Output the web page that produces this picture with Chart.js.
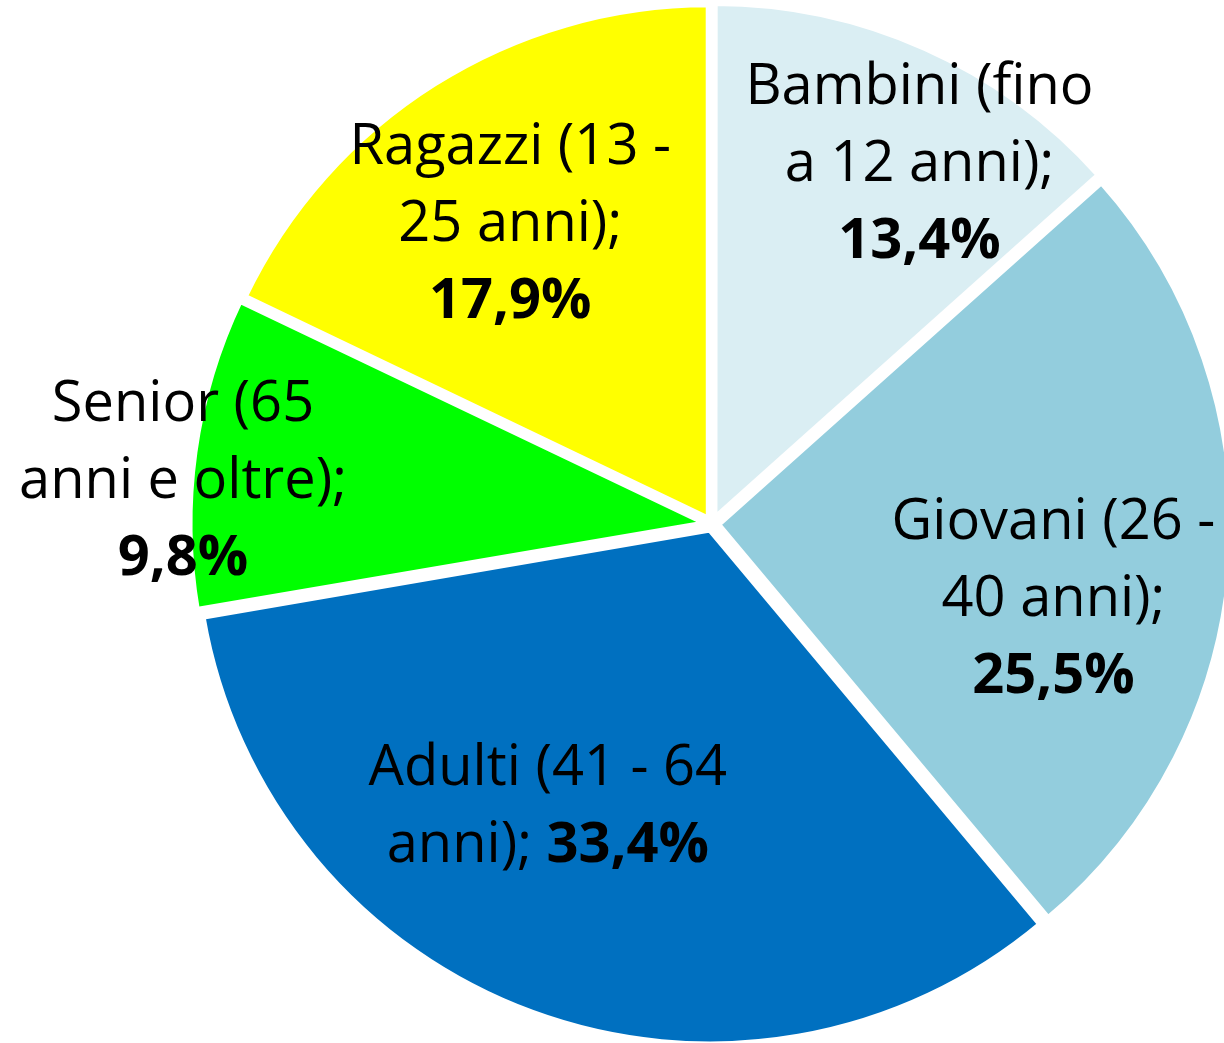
<!DOCTYPE html>
<html>
<head>
<meta charset="utf-8">
<script src="https://cdn.jsdelivr.net/npm/chart.js@4/dist/chart.umd.min.js"></script>
<style>
    body { margin: 0; background: #ffffff; }
    canvas { display: block; }
</style>
</head>
<body>
<canvas id="graficoEta" width="1224" height="1043"></canvas>
<script>
// fasce d'età (a capo come nell'originale)
const categorie = [
    ["Bambini (fino", "a 12 anni)"],
    ["Giovani (26 -", "40 anni)"],
    ["Adulti (41 - 64", "anni)"],
    ["Senior (65", "anni e oltre)"],
    ["Ragazzi (13 -", "25 anni)"],
];
const percentuali = [13.4, 25.5, 33.4, 9.8, 17.9];
const colori = ["#DAEEF3", "#93CDDD", "#0070C0", "#00FF00", "#FFFF00"];

// dove mettere le etichette: frazione del raggio e rotazione in gradi rispetto alla bisettrice
const posEtichette = [
    { r: 0.814, giro: 5.6 },
    { r: 0.679, giro: 7.8 },
    { r: 0.63, giro: 10.3 },
    { r: 1.033, giro: -3.0 },
    { r: 0.709, giro: -1.4 },
];

const fontNormale = "56px 'Open Sans'";
const fontGrassetto = "bold 56px 'Open Sans'";
const interlinea = 77;
const larghezzaMax = 370;

const formatta = (v) => v.toFixed(1).replace(".", ",") + "%";

const etichettePlugin = {
    id: "etichette",
    afterDatasetsDraw(chart) {
        const ctx = chart.ctx;
        const archi = chart.getDatasetMeta(0).data;
        ctx.save();
        ctx.fillStyle = "#000000";
        ctx.textBaseline = "alphabetic";
        archi.forEach((arco, i) => {
            const p = arco.getProps(["x", "y", "startAngle", "endAngle", "outerRadius"], true);
            const pos = posEtichette[i];
            const ang = (p.startAngle + p.endAngle) / 2 + (pos.giro * Math.PI) / 180;
            const cx = p.x + Math.cos(ang) * pos.r * p.outerRadius;
            const cy = p.y + Math.sin(ang) * pos.r * p.outerRadius;

            // righe come liste di pezzi {testo, grassetto}
            const righe = categorie[i].map((t) => [{ testo: t, grassetto: false }]);
            const ultima = righe[righe.length - 1];
            ultima[0].testo += ";";
            const pct = formatta(percentuali[i]);
            ctx.font = fontNormale;
            let w = ctx.measureText(ultima[0].testo + " ").width;
            ctx.font = fontGrassetto;
            w += ctx.measureText(pct).width;
            if (w <= larghezzaMax) {
                ultima[0].testo += " ";
                ultima.push({ testo: pct, grassetto: true });
            } else {
                righe.push([{ testo: pct, grassetto: true }]);
            }

            const altezzaMaiuscole = 40;
            const y0 = cy - ((righe.length - 1) * interlinea) / 2;
            righe.forEach((riga, k) => {
                const larghezze = riga.map((pz) => {
                    ctx.font = pz.grassetto ? fontGrassetto : fontNormale;
                    return ctx.measureText(pz.testo).width;
                });
                const tot = larghezze.reduce((a, b) => a + b, 0);
                let x = cx - tot / 2;
                const y = y0 + k * interlinea + altezzaMaiuscole / 2;
                riga.forEach((pz, j) => {
                    ctx.font = pz.grassetto ? fontGrassetto : fontNormale;
                    ctx.textAlign = "left";
                    ctx.fillText(pz.testo, x, y);
                    x += larghezze[j];
                });
            });
        });
        ctx.restore();
    },
};

const dataGraficoEta = {
    labels: categorie,
    datasets: [
        {
            data: percentuali,
            backgroundColor: colori,
            borderColor: "#ffffff",
            borderWidth: 6,
            offset: 24,
        },
    ],
};

const configGraficoEta = {
    type: "pie",
    data: dataGraficoEta,
    options: {
        responsive: false,
        animation: false,
        devicePixelRatio: 1,
        radius: 514,
        layout: {
            padding: { left: 200, right: 0, top: 5, bottom: 0 },
        },
        plugins: {
            legend: { display: false },
            tooltip: { enabled: false },
        },
    },
    plugins: [etichettePlugin],
};

const graficoEta = new Chart(document.getElementById("graficoEta"), configGraficoEta);
</script>
</body>
</html>
